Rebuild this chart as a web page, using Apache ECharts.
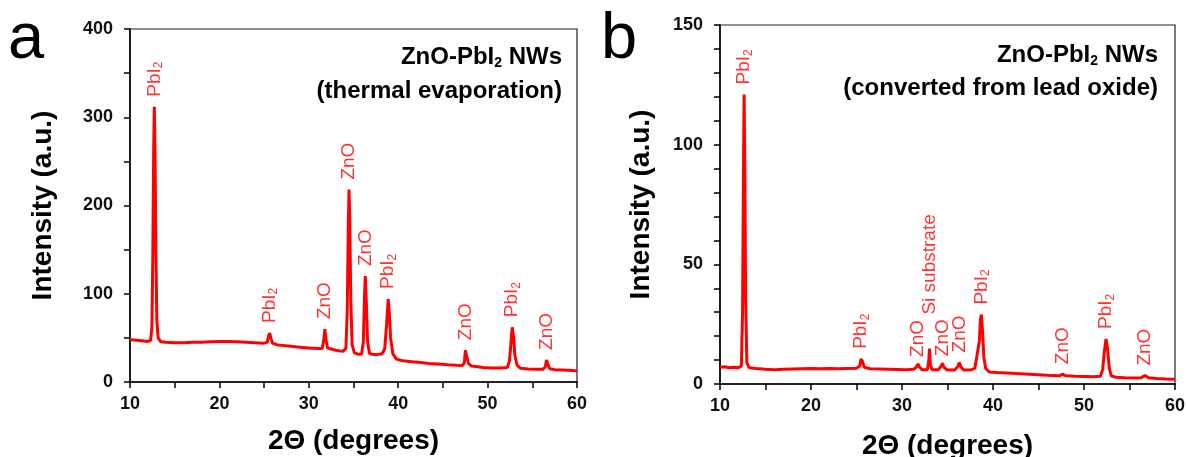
<!DOCTYPE html>
<html>
<head>
<meta charset="utf-8">
<title>XRD patterns of ZnO-PbI2 nanowires</title>
<script src="https://cdn.jsdelivr.net/npm/echarts@6/dist/echarts.min.js"></script>
<style>
  html, body { margin: 0; padding: 0; background: #fff; }
  #chart { width: 1187px; height: 457px; }
</style>
</head>
<body>
<div id="chart"></div>
<script>
// Panel (a): ZnO-PbI2 NWs grown by thermal evaporation — [2θ (deg), intensity (a.u.)]
const scanA = [
  [10.0, 48], [10.5, 47.5], [11.0, 47], [11.5, 46.5], [12.0, 46], [12.3, 47],
  [12.45, 62], [12.55, 140], [12.65, 265], [12.72, 312], [12.8, 262], [12.9, 145],
  [13.0, 70], [13.15, 50], [13.4, 46], [14.0, 45], [15.0, 44.5], [16.0, 44.5],
  [17.0, 45], [18.0, 45], [19.0, 45.5], [20.0, 46], [21.0, 46], [22.0, 45.5],
  [23.0, 45], [24.0, 44.5], [25.0, 44], [25.35, 45], [25.5, 52], [25.62, 55.5],
  [25.75, 50], [25.95, 44], [26.5, 42], [27.0, 41.5], [28.0, 40.5], [29.0, 39.5],
  [30.0, 38.5], [31.0, 38], [31.5, 38], [31.68, 48], [31.8, 60], [31.92, 48],
  [32.1, 38.5], [33.0, 36], [33.8, 34.7], [34.15, 38], [34.3, 80], [34.42, 180],
  [34.5, 218], [34.58, 185], [34.7, 90], [34.85, 42], [35.1, 33], [35.5, 31.5],
  [35.9, 31.5], [36.1, 45], [36.22, 95], [36.32, 120], [36.42, 95], [36.58, 45],
  [36.8, 32], [37.5, 31], [38.2, 32], [38.5, 38], [38.7, 65], [38.88, 94],
  [39.0, 80], [39.15, 50], [39.4, 32], [39.8, 26], [40.5, 24], [41.5, 23],
  [42.5, 22], [43.5, 21], [44.5, 20.5], [45.5, 19.5], [46.5, 19], [47.2, 18.8],
  [47.4, 22], [47.52, 36], [47.65, 30], [47.85, 21], [48.2, 18], [49.5, 16.5],
  [50.5, 16], [51.5, 16], [52.2, 16.5], [52.45, 24], [52.62, 45], [52.75, 62],
  [52.9, 52], [53.05, 30], [53.3, 19], [53.7, 15.5], [54.5, 14.8], [55.5, 14.5],
  [56.2, 14.5], [56.45, 17], [56.6, 25], [56.75, 20], [56.95, 15], [57.5, 14],
  [58.5, 13.5], [59.5, 13], [60.0, 12.5]
];

// Panel (b): ZnO-PbI2 NWs converted from lead oxide — [2θ (deg), intensity (a.u.)]
const scanB = [
  [10.0, 7], [10.5, 7.2], [11.0, 6.8], [11.5, 7], [12.0, 6.8], [12.35, 7.5],
  [12.48, 30], [12.57, 85], [12.65, 121], [12.73, 90], [12.82, 35], [12.95, 9],
  [13.2, 6.8], [14.0, 6.5], [15.0, 6.2], [16.0, 6], [17.0, 6.2], [18.0, 6.3],
  [19.0, 6.4], [20.0, 6.5], [21.0, 6.4], [22.0, 6.5], [23.0, 6.4], [24.0, 6.5],
  [25.0, 6.6], [25.35, 7.5], [25.5, 10.5], [25.65, 9.5], [25.85, 7], [26.5, 6.4],
  [27.5, 6.3], [28.5, 6.2], [29.5, 6.1], [30.5, 6], [31.3, 6.2], [31.6, 7.2],
  [31.75, 8.4], [31.9, 7.2], [32.2, 6], [32.8, 6], [32.95, 10], [33.02, 14.8],
  [33.12, 8], [33.3, 6], [34.0, 6], [34.3, 7.5], [34.45, 8.7], [34.6, 7],
  [35.0, 5.8], [35.8, 5.8], [36.15, 7.5], [36.3, 9], [36.45, 7.2], [36.8, 5.8],
  [37.5, 5.8], [38.0, 6.5], [38.2, 11], [38.35, 11.5], [38.5, 18], [38.62, 27],
  [38.72, 29], [38.85, 22], [39.0, 11], [39.2, 6.5], [39.6, 5], [40.5, 4.8],
  [41.5, 4.6], [42.5, 4.4], [43.5, 4.2], [44.5, 4], [45.5, 3.8], [46.5, 3.5],
  [47.3, 3.4], [47.65, 4.1], [48.0, 3.4], [49.0, 3.2], [50.0, 3.1], [51.0, 3],
  [51.8, 3.2], [52.05, 6], [52.25, 14], [52.42, 18.8], [52.58, 15], [52.78, 6.5],
  [53.0, 3.4], [53.5, 2.8], [54.5, 2.6], [55.5, 2.5], [56.3, 2.6], [56.7, 3.5],
  [57.1, 2.6], [58.0, 2.3], [59.0, 2.1], [60.0, 2]
];

// Indexed reflections: [2θ (deg), phase]
const peaksA = [
  [12.72, 'PbI2'], [25.62, 'PbI2'], [31.8, 'ZnO'], [34.5, 'ZnO'], [36.32, 'ZnO'],
  [38.88, 'PbI2'], [47.52, 'ZnO'], [52.75, 'PbI2'], [56.6, 'ZnO']
];
const peaksB = [
  [12.65, 'PbI2'], [25.5, 'PbI2'], [31.75, 'ZnO'], [33.02, 'Si substrate'],
  [34.45, 'ZnO'], [36.3, 'ZnO'], [38.72, 'PbI2'], [47.65, 'ZnO'],
  [52.42, 'PbI2'], [56.7, 'ZnO']
];

// Axis ranges and tick steps
const xRange = [10, 60, 10];
const yRangeA = [0, 400, 100];
const yRangeB = [0, 150, 50];

// Panel headings
const headingA = ['ZnO-PbI2 NWs', '(thermal evaporation)'];
const headingB = ['ZnO-PbI2 NWs', '(converted from lead oxide)'];

const FONT = "'Liberation Sans', Arial, Helvetica, sans-serif";
const RED = '#ff0000';
const INK = '#111';

// Highest intensity of a scan near a given angle (top of the reflection)
function peakTop(scan, x) {
  let top = 0;
  scan.forEach(p => { if (Math.abs(p[0] - x) <= 0.2 && p[1] > top) top = p[1]; });
  return top;
}

// "PbI2" -> rich text with a subscript 2
function phaseText(name) {
  if (/I2$/.test(name)) return '{n|' + name.slice(0, -1) + '}{s|2}';
  return '{n|' + name + '}';
}

// Extra clearance (px) for a few crowded labels
const extraGap = { 'Si substrate': 24, 'ZnO@31.75': -3, 'ZnO@34.45': -3 };

function labelSeries(scan, peaks, axisIndex) {
  return {
    type: 'scatter',
    xAxisIndex: axisIndex,
    yAxisIndex: axisIndex,
    symbolSize: 0,
    silent: true,
    z: 5,
    data: peaks.map(([x, name]) => {
      const gap = 10 + (extraGap[name] || extraGap[name + '@' + x] || 0);
      return {
        value: [x, peakTop(scan, x)],
        name: name,
        label: { distance: gap }
      };
    }),
    label: {
      show: true,
      position: 'top',
      rotate: 90,
      align: 'left',
      verticalAlign: 'middle',
      formatter: p => phaseText(p.name),
      rich: {
        n: { fontFamily: FONT, fontSize: 19, color: RED, lineHeight: 21 },
        s: { fontFamily: FONT, fontSize: 12, color: RED, lineHeight: 12, verticalAlign: 'bottom' }
      }
    }
  };
}

function xAxisFor(gridIndex, nameGap) {
  return {
    type: 'value', gridIndex: gridIndex,
    min: xRange[0], max: xRange[1], interval: xRange[2],
    name: '2\u0398 (degrees)', nameLocation: 'middle', nameGap: nameGap,
    nameTextStyle: { fontFamily: FONT, fontSize: 28, fontWeight: 'bold', color: '#000' },
    axisLine: { show: true, onZero: false, lineStyle: { color: '#000', width: 1.5 } },
    axisTick: { show: true, inside: false, length: 6, lineStyle: { color: '#000', width: 1.5 } },
    minorTick: { show: true, splitNumber: 2, length: 6, lineStyle: { color: '#000', width: 1.5 } },
    splitLine: { show: false }, minorSplitLine: { show: false },
    axisLabel: { fontFamily: FONT, fontSize: 18, fontWeight: 'bold', color: INK, margin: 13 }
  };
}

function yAxisFor(gridIndex, range, minorSplit, nameGap) {
  return {
    type: 'value', gridIndex: gridIndex,
    min: range[0], max: range[1], interval: range[2],
    name: 'Intensity (a.u.)', nameLocation: 'middle', nameGap: nameGap,
    nameTextStyle: { fontFamily: FONT, fontSize: 28, fontWeight: 'bold', color: '#000' },
    axisLine: { show: true, onZero: false, lineStyle: { color: '#000', width: 1.5 } },
    axisTick: { show: true, inside: false, length: 6, lineStyle: { color: '#000', width: 1.5 } },
    minorTick: { show: true, splitNumber: minorSplit, length: 6, lineStyle: { color: '#000', width: 1.5 } },
    splitLine: { show: false }, minorSplitLine: { show: false },
    axisLabel: { fontFamily: FONT, fontSize: 18, fontWeight: 'bold', color: INK, margin: 17 }
  };
}

function heading(lines, right, y1, y2) {
  const richTitle = {
    b: { fontFamily: FONT, fontSize: 24, fontWeight: 'bold', fill: '#000', lineHeight: 27 },
    s: { fontFamily: FONT, fontSize: 14, fontWeight: 'bold', fill: '#000', lineHeight: 15, verticalAlign: 'bottom' }
  };
  const first = lines[0].replace(/^(.*I)2(.*)$/, '{b|$1}{s|2}{b|$2}');
  return [
    { type: 'text', x: right, y: y1, z: 10, style: {
        text: first, rich: richTitle, align: 'right', verticalAlign: 'middle' } },
    { type: 'text', x: right, y: y2, z: 10, style: {
        text: lines[1], fill: '#000', align: 'right', verticalAlign: 'middle',
        font: 'bold 24px ' + FONT } }
  ];
}

const chart = echarts.init(document.getElementById('chart'), null, { renderer: 'canvas' });

chart.setOption({
  animation: false,
  backgroundColor: '#fff',
  grid: [
    { left: 130, top: 29, width: 447, height: 353, outerBoundsMode: 'none', containLabel: false,
      show: true, borderColor: '#222', borderWidth: 1.2, backgroundColor: 'transparent' },
    { left: 720, top: 25, width: 455, height: 359, outerBoundsMode: 'none', containLabel: false,
      show: true, borderColor: '#222', borderWidth: 1.2, backgroundColor: 'transparent' }
  ],
  xAxis: [xAxisFor(0, 45), xAxisFor(1, 48)],
  yAxis: [yAxisFor(0, yRangeA, 2, 73), yAxisFor(1, yRangeB, 5, 65)],
  series: [
    { type: 'line', xAxisIndex: 0, yAxisIndex: 0, data: scanA, showSymbol: false,
      lineStyle: { color: RED, width: 3 }, silent: true },
    { type: 'line', xAxisIndex: 1, yAxisIndex: 1, data: scanB, showSymbol: false,
      lineStyle: { color: RED, width: 3 }, silent: true },
    labelSeries(scanA, peaksA, 0),
    labelSeries(scanB, peaksB, 1)
  ],
  graphic: [
    { type: 'text', x: 8, y: 40, style: { text: 'a', fill: '#000', font: '65px ' + FONT, verticalAlign: 'middle' } },
    { type: 'text', x: 601, y: 40, style: { text: 'b', fill: '#000', font: '65px ' + FONT, verticalAlign: 'middle' } }
  ].concat(heading(headingA, 562, 57, 91), heading(headingB, 1158, 55, 88))
});
</script>
</body>
</html>
